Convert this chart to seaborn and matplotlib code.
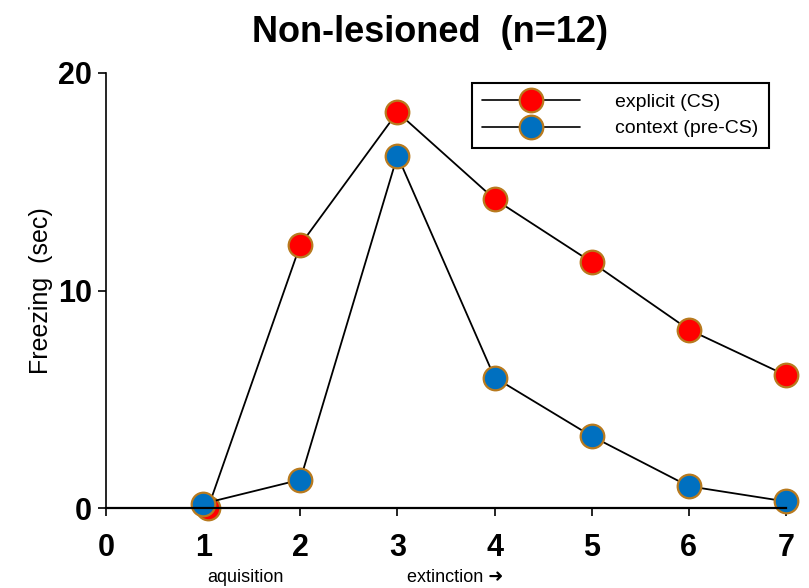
import numpy as np
import pandas as pd
import matplotlib
matplotlib.use("Agg")
import matplotlib.pyplot as plt
import seaborn as sns
from matplotlib.lines import Line2D

# values
sessions = [1, 2, 3, 4, 5, 6, 7]
explicit_x = [1.05, 2, 3, 4, 5, 6, 7]
explicit_cs = [0.0, 12.1, 18.2, 14.2, 11.3, 8.2, 6.1]
context_pre_cs = [0.2, 1.3, 16.2, 6.0, 3.3, 1.0, 0.3]
x_ticks = [0, 1, 2, 3, 4, 5, 6, 7]
y_ticks = [0, 10, 20]

red = "#ff0000"
blue = "#0070c0"
edge = "#b87a1e"

sns.set_style("ticks")
plt.rcParams["font.family"] = ["Liberation Sans", "DejaVu Sans"]
plt.rcParams["text.color"] = "black"
plt.rcParams["axes.labelcolor"] = "black"

fig = plt.figure(figsize=(8.09, 5.88), dpi=100)
ax = fig.add_axes([106 / 809, 80 / 588, 680 / 809, 435 / 588])

df_exp = pd.DataFrame({"session": explicit_x, "freezing": explicit_cs})
df_ctx = pd.DataFrame({"session": sessions, "freezing": context_pre_cs})

marker_kw = dict(marker="o", markersize=17, markeredgewidth=1.6,
                 markeredgecolor=edge, linewidth=1.3, clip_on=False)
sns.lineplot(data=df_exp, x="session", y="freezing", color="black",
             markerfacecolor=red, ax=ax, **marker_kw)
sns.lineplot(data=df_ctx, x="session", y="freezing", color="black",
             markerfacecolor=blue, ax=ax, **marker_kw)

ax.set_xlim(0, 7)
ax.set_ylim(0, 20)
ax.set_xticks(x_ticks)
ax.set_yticks(y_ticks)
ax.tick_params(axis="both", labelsize=22, length=6, width=1.2,
               colors="black", labelcolor="black")
for lab in ax.get_xticklabels() + ax.get_yticklabels():
    lab.set_fontweight("bold")
ax.tick_params(axis="x", pad=12)
ax.tick_params(axis="y", pad=4)
sns.despine(ax=ax)
ax.spines["left"].set_linewidth(1.2)
ax.spines["bottom"].set_linewidth(1.6)
ax.spines["left"].set_color("black")
ax.spines["bottom"].set_color("black")

ax.set_xlabel("")
ax.set_ylabel("Freezing  (sec)", fontsize=18, labelpad=4)

fig.text(430 / 809, 1 - 33 / 588, "Non-lesioned  (n=12)", ha="center",
         va="center", fontsize=26, fontweight="bold")
fig.text(245 / 809, 1 - 578 / 588, "aquisition", ha="center", va="center",
         fontsize=13)
fig.text(455 / 809, 1 - 578 / 588, "extinction \u279c", ha="center",
         va="center", fontsize=13)

handles = [
    Line2D([], [], color="black", linewidth=1.2, marker="o", markersize=17,
           markerfacecolor=red, markeredgecolor=edge, markeredgewidth=1.6),
    Line2D([], [], color="black", linewidth=1.2, marker="o", markersize=17,
           markerfacecolor=blue, markeredgecolor=edge, markeredgewidth=1.6),
]
leg = fig.legend(handles, ["explicit (CS)", "context (pre-CS)"],
                 loc="upper left", bbox_to_anchor=(462 / 809, 1 - 73 / 588),
                 bbox_transform=fig.transFigure, fontsize=14, handlelength=5.0,
                 handletextpad=1.8, labelspacing=0.45, borderpad=0.55,
                 fancybox=False, framealpha=1, edgecolor="black", numpoints=1)
leg.get_frame().set_linewidth(1.5)

fig.savefig("out.png", dpi=100)
